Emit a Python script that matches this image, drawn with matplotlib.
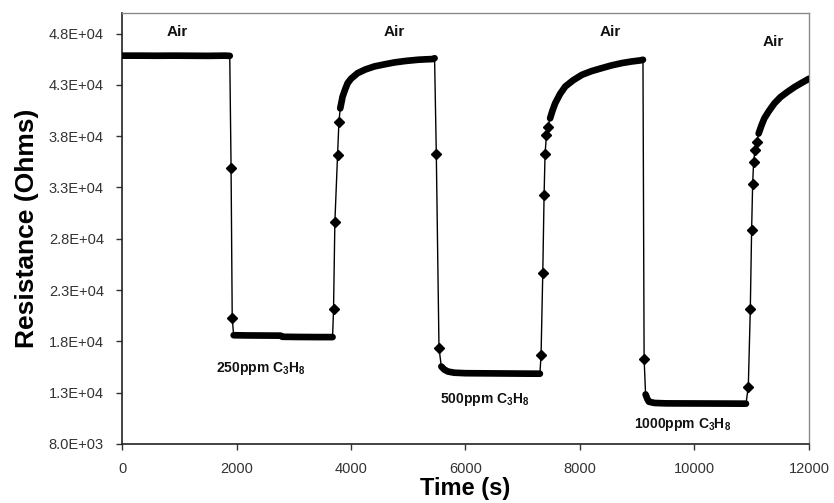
# -------------------- Modules --------------------
import matplotlib
matplotlib.use("Agg")
from matplotlib import pyplot as plt
from matplotlib.ticker import FuncFormatter


# -------------------- Data -----------------------
# Each phase of the run: times (s) and resistance (Ohms).
# "steady" phases are the dense stretches, "switch" phases the gas on/off jumps.
air0_t = [0, 300, 600, 900, 1200, 1500, 1800, 1882]
air0_r = [45850, 45850, 45840, 45850, 45840, 45830, 45850, 45830]

on250_t = [1882, 1905, 1925, 1950]
on250_r = [45830, 34900, 20300, 18600]

gas250_t = [1950, 2200, 2500, 2770, 2800, 3100, 3400, 3678]
gas250_r = [18600, 18580, 18570, 18560, 18450, 18430, 18420, 18420]

off250_t = [3678, 3695, 3718, 3765, 3789, 3812]
off250_r = [18420, 21110, 29600, 36140, 39400, 40710]

air1_t = [3812, 3853, 3900, 3941, 4000, 4117, 4250, 4409, 4600, 4760,
          4950, 5169, 5300, 5432, 5460]
air1_r = [40710, 41850, 42600, 43170, 43600, 44150, 44500, 44800, 45020, 45190,
          45330, 45450, 45490, 45520, 45600]

on500_t = [5460, 5490, 5537, 5578]
on500_r = [45600, 36300, 17340, 15550]

gas500_t = [5578, 5630, 5695, 5800, 6000, 6500, 7000, 7300]
gas500_r = [15550, 15250, 15060, 14950, 14900, 14880, 14860, 14850]

off500_t = [7300, 7320, 7350, 7373, 7390, 7414, 7437, 7478]
off500_r = [14850, 16690, 24700, 32310, 36300, 38100, 38910, 39740]

air2_t = [7478, 7520, 7566, 7650, 7742, 7880, 8033, 8200, 8384, 8550,
          8735, 8900, 9056, 9100]
air2_r = [39740, 40500, 41200, 42100, 42840, 43450, 43980, 44340, 44640, 44900,
          45130, 45280, 45390, 45450]

on1000_t = [9100, 9120, 9146]
on1000_r = [45450, 16300, 12830]

gas1000_t = [9146, 9180, 9204, 9300, 9500, 10000, 10500, 10900]
gas1000_r = [12830, 12350, 12120, 12000, 11960, 11950, 11940, 11930]

off1000_t = [10900, 10940, 10975, 10998, 11016, 11033, 11056, 11091, 11121]
off1000_r = [11930, 13590, 21110, 28850, 33360, 35480, 36630, 37440, 38260]

air3_t = [11121, 11170, 11220, 11300, 11396, 11500, 11629, 11750, 11863, 12000]
air3_r = [38260, 39050, 39740, 40450, 41200, 41800, 42340, 42800, 43170, 43600]

phases = [
    ("steady", air0_t, air0_r), ("switch", on250_t, on250_r),
    ("steady", gas250_t, gas250_r), ("switch", off250_t, off250_r),
    ("steady", air1_t, air1_r), ("switch", on500_t, on500_r),
    ("steady", gas500_t, gas500_r), ("switch", off500_t, off500_r),
    ("steady", air2_t, air2_r), ("switch", on1000_t, on1000_r),
    ("steady", gas1000_t, gas1000_r), ("switch", off1000_t, off1000_r),
    ("steady", air3_t, air3_r),
]

# annotations: (text, time, resistance)
air_labels = [("Air", 965, 48200), ("Air", 4754, 48200),
              ("Air", 8526, 48200), ("Air", 11368, 47200)]
gas_labels = [(r"250ppm C$_\mathbf{3}$H$_\mathbf{8}$", 2420, 15350),
              (r"500ppm C$_\mathbf{3}$H$_\mathbf{8}$", 6330, 12300),
              (r"1000ppm C$_\mathbf{3}$H$_\mathbf{8}$", 9790, 9860)]

x_ticks = [0, 2000, 4000, 6000, 8000, 10000, 12000]
y_ticks = [8000, 13000, 18000, 23000, 28000, 33000, 38000, 43000, 48000]


# -------------------- Methods --------------------
def plot_response() -> None:
    """Draws the resistance response to successive C3H8 pulses"""
    plt.rcParams["font.family"] = ["Liberation Sans", "DejaVu Sans"]
    plt.rcParams["mathtext.fontset"] = "custom"
    plt.rcParams["mathtext.rm"] = "Liberation Sans"
    plt.rcParams["mathtext.bf"] = "Liberation Sans:bold"

    fig = plt.figure(figsize=(8.34, 5.03), dpi=100)
    ax = fig.add_axes([0.1463, 0.1173, 0.8237, 0.8567])

    all_t, all_r = [], []
    for _, t, r in phases:
        all_t += t
        all_r += r
    ax.plot(all_t, all_r, color="black", lw=1.0, zorder=2)

    # dense stretches look like a thick trace, jumps show single diamonds
    for kind, t, r in phases:
        if kind == "steady":
            ax.plot(t, r, color="black", lw=4.8, solid_capstyle="round",
                    solid_joinstyle="round", zorder=3)
        else:
            ax.plot(t[1:-1], r[1:-1], ls="none", color="black", marker="D",
                    ms=4.6, zorder=4)

    for txt, x, y in air_labels:
        ax.text(x, y, txt, ha="center", va="center", fontsize=11,
                fontweight="bold", color="#111111")
    for txt, x, y in gas_labels:
        ax.text(x, y, txt, ha="center", va="center", fontsize=10,
                fontweight="bold", color="#111111")

    ax.set_xlim(0, 12000)
    ax.set_ylim(8000, 50000)
    ax.set_xticks(x_ticks)
    ax.set_yticks(y_ticks)
    ax.yaxis.set_major_formatter(FuncFormatter(lambda v, _: f"{v:.1E}"))
    ax.tick_params(direction="out", length=4, width=1, pad=9,
                   labelsize=10.5, labelcolor="#333333", color="#333333")

    for side in ("left", "bottom"):
        ax.spines[side].set_color("#222222")
        ax.spines[side].set_linewidth(1.2)
    for side in ("top", "right"):
        ax.spines[side].set_color("#8a8a8a")
        ax.spines[side].set_linewidth(1.0)

    ax.set_xlabel("Time (s)", fontsize=17, fontweight="bold", labelpad=1)
    ax.set_ylabel("Resistance (Ohms)", fontsize=19, fontweight="bold", labelpad=7)

    fig.savefig("out.png", dpi=100)
    return


# -------------------- Main -----------------------
def main():
    plot_response()


if __name__ == "__main__":
    main()
